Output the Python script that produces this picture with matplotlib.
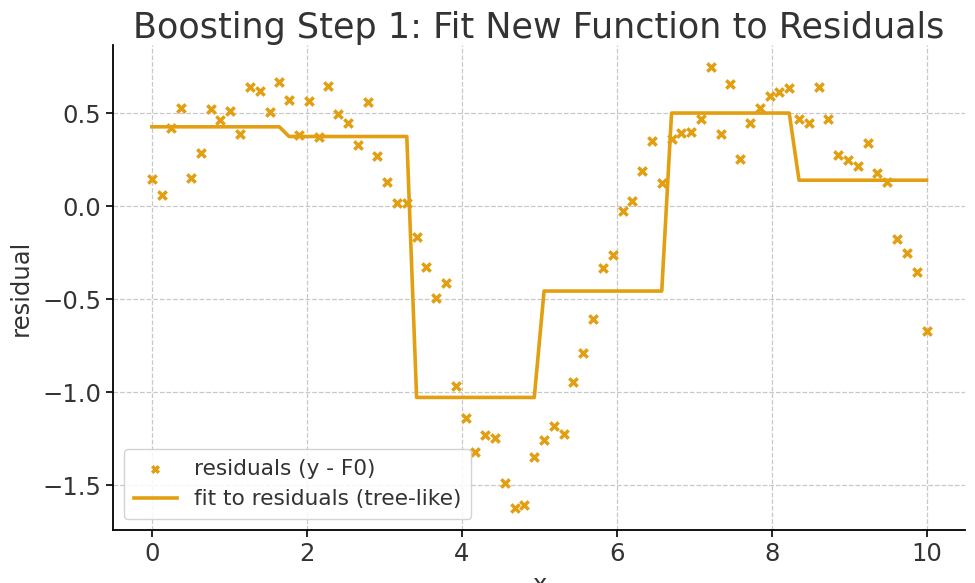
import numpy as np
import matplotlib
matplotlib.use("Agg")
import matplotlib.pyplot as plt

n_points = 80
x_start, x_end = 0.0, 10.0

residuals = [
    0.148, 0.062, 0.424, 0.531, 0.152, 0.286, 0.523, 0.465, 0.515, 0.388,
    0.641, 0.619, 0.510, 0.669, 0.573, 0.383, 0.569, 0.374, 0.648, 0.497,
    0.450, 0.330, 0.560, 0.270, 0.133, 0.020, 0.018, -0.164, -0.326, -0.492,
    -0.412, -0.966, -1.139, -1.323, -1.229, -1.243, -1.487, -1.621, -1.607, -1.345,
    -1.255, -1.179, -1.225, -0.945, -0.790, -0.607, -0.329, -0.260, -0.027, 0.027,
    0.189, 0.353, 0.126, 0.360, 0.393, 0.398, 0.470, 0.747, 0.390, 0.660,
    0.257, 0.451, 0.531, 0.594, 0.615, 0.639, 0.468, 0.448, 0.644, 0.471,
    0.275, 0.248, 0.216, 0.342, 0.179, 0.134, -0.177, -0.252, -0.354, -0.670,
]

# step fit: (number of samples in segment, level)
segment_counts = [14, 13, 13, 13, 13, 14]
segment_levels = [0.428, 0.376, -1.027, -0.455, 0.502, 0.141]

color = "#E39F12"
text_color = "#333333"

x = np.linspace(x_start, x_end, n_points)
fit = np.repeat(segment_levels, segment_counts)

plt.rcParams['font.family'] = ['DejaVu Sans']
fig = plt.figure(figsize=(9.75, 5.83), dpi=100)
ax = fig.add_axes([0.116, 0.091, 0.874, 0.831])

ax.scatter(x, residuals, marker='x', s=36, linewidths=2.5, color=color,
           label='residuals (y - F0)', zorder=3)
ax.plot(x, fit, color=color, linewidth=2.6, label='fit to residuals (tree-like)', zorder=2)

ax.grid(True, linestyle='--', color='#c8c8c8', linewidth=0.9)
ax.set_axisbelow(True)
for s in ['top', 'right']:
    ax.spines[s].set_visible(False)
for s in ['left', 'bottom']:
    ax.spines[s].set_linewidth(1.3)

ax.set_title('Boosting Step 1: Fit New Function to Residuals', fontsize=25.2,
             color=text_color, pad=5)
ax.set_xlabel('x', fontsize=17.5, color=text_color, labelpad=5)
ax.set_ylabel('residual', fontsize=17.5, color=text_color, labelpad=7)
ax.tick_params(labelsize=17.5, labelcolor=text_color, length=5, width=1.2)
ax.set_xticks([0, 2, 4, 6, 8, 10])
ax.set_yticks([-1.5, -1.0, -0.5, 0.0, 0.5])

leg = ax.legend(loc='lower left', fontsize=15.6, frameon=True, framealpha=0.85,
                edgecolor='#cccccc', borderpad=0.45, labelcolor=text_color,
                markerscale=0.8, handlelength=2.0)

fig.savefig('out.png', dpi=100)
